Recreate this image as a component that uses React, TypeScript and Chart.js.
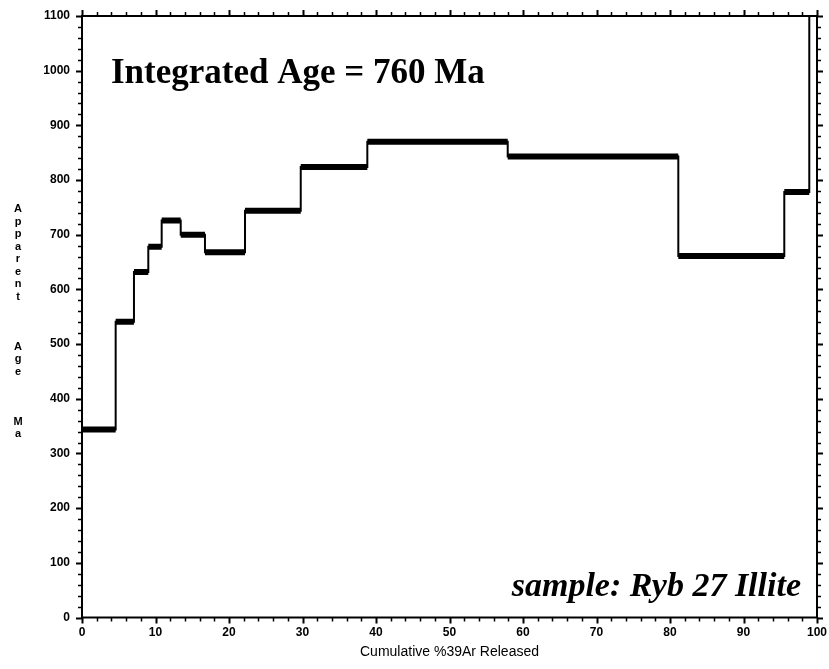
import React, { useEffect, useRef } from "react";
import { Chart, registerables } from "chart.js";

Chart.register(...registerables);

// ---- data ----
const stepStarts = [0, 4.58, 7.07, 9.02, 10.84, 13.43, 16.73, 22.18, 29.76, 38.82, 57.92, 81.13, 95.55, 98.95];
const stepAges = [344, 541, 632, 678, 726, 700, 668, 744, 824, 870, 843, 661, 778, 1300];
const releaseEnd = 100;
const finalDropAge = 133;

const xMin = 0;
const xMax = 100;
const xMajorStep = 10;
const xMinorStep = 2;
const yMin = 0;
const yMax = 1100;
const yMajorStep = 100;
const yMinorStep = 20;

const titleText = "Integrated Age = 760 Ma";
const sampleText = "sample: Ryb 27 Illite";
const yAxisWords = ["Apparent", "Age", "Ma"];
const xAxisTitle = "Cumulative %39Ar Released";

// ---- derived datasets ----
const stepLine = [
  ...stepStarts.map((x, i) => ({ x, y: stepAges[i] })),
  { x: releaseEnd, y: stepAges[stepAges.length - 1] },
  { x: releaseEnd, y: finalDropAge },
];

const bandPoints: { x: number; y: number | null }[] = [];
for (let i = 0; i < stepStarts.length - 1; i++) {
  const end = stepStarts[i + 1];
  bandPoints.push({ x: stepStarts[i], y: stepAges[i] });
  bandPoints.push({ x: end, y: stepAges[i] });
  bandPoints.push({ x: end, y: null });
}

const decorPlugin = {
  id: "decor",
  afterDraw(chart: any) {
    const { ctx, chartArea } = chart;
    const { left, right, top, bottom } = chartArea;
    const xs = chart.scales.x;
    const ys = chart.scales.y;
    ctx.save();
    ctx.strokeStyle = "#000";
    ctx.fillStyle = "#000";
    // frame
    ctx.lineWidth = 2;
    ctx.strokeRect(left, top, right - left, bottom - top);
    // x ticks (bottom outward, top outward)
    for (let v = xMin; v <= xMax + 1e-9; v += xMinorStep) {
      const major = Math.abs(v % xMajorStep) < 1e-9;
      const len = major ? 6 : 4;
      const px = Math.round(xs.getPixelForValue(v)) + 0.5;
      ctx.lineWidth = major ? 2 : 1.5;
      ctx.beginPath();
      ctx.moveTo(px, bottom);
      ctx.lineTo(px, bottom + len);
      ctx.moveTo(px, top);
      ctx.lineTo(px, top - len);
      ctx.stroke();
    }
    // y ticks (left outward, right outward)
    for (let v = yMin; v <= yMax + 1e-9; v += yMinorStep) {
      const major = Math.abs(v % yMajorStep) < 1e-9;
      const len = major ? 6 : 4;
      const py = Math.round(ys.getPixelForValue(v)) + 0.5;
      ctx.lineWidth = major ? 2 : 1.5;
      ctx.beginPath();
      ctx.moveTo(left, py);
      ctx.lineTo(left - len, py);
      ctx.moveTo(right, py);
      ctx.lineTo(right + len, py);
      ctx.stroke();
    }
    // title in plot
    ctx.textAlign = "left";
    ctx.textBaseline = "alphabetic";
    ctx.font = "bold 35px 'Liberation Serif', 'Times New Roman', serif";
    ctx.fillText(titleText, 111, 83);
    // sample label
    ctx.textAlign = "right";
    ctx.font = "italic bold 34px 'Liberation Serif', 'Times New Roman', serif";
    ctx.fillText(sampleText, 801, 596);
    // stacked y-axis title
    ctx.textAlign = "center";
    ctx.textBaseline = "middle";
    ctx.font = "bold 11px 'Liberation Sans', Arial, sans-serif";
    let yy = 209;
    const stepY = 12.5;
    yAxisWords.forEach((w, wi) => {
      for (const ch of w) {
        ctx.fillText(ch, 18, yy);
        yy += stepY;
      }
      if (wi < yAxisWords.length - 1) yy += stepY * 3;
    });
    // x-axis title
    ctx.font = "14px 'Liberation Sans', Arial, sans-serif";
    ctx.fillText(xAxisTitle, (left + right) / 2, 652);
    ctx.restore();
  },
};

export default function App() {
  const canvasRef = useRef<HTMLCanvasElement | null>(null);

  useEffect(() => {
    const canvas = canvasRef.current;
    if (!canvas) return;
    const tickFont = { family: "'Liberation Sans', Arial, sans-serif", size: 12, weight: "bold" as const };
    const chart = new Chart(canvas, {
      type: "line",
      data: {
        datasets: [
          {
            label: "error band",
            data: bandPoints as any,
            borderColor: "#000",
            borderWidth: 6,
            borderCapStyle: "butt",
            pointRadius: 0,
            spanGaps: false,
            tension: 0,
            fill: false,
          },
          {
            label: "age spectrum",
            data: stepLine as any,
            borderColor: "#000",
            borderWidth: 2,
            stepped: "before",
            pointRadius: 0,
            tension: 0,
            fill: false,
          },
        ],
      },
      options: {
        responsive: false,
        animation: false,
        events: [],
        layout: { padding: { left: 0, right: 12, top: 16, bottom: 0 } },
        plugins: {
          legend: { display: false },
          tooltip: { enabled: false },
          title: { display: false },
        },
        scales: {
          x: {
            type: "linear",
            min: xMin,
            max: xMax,
            afterFit: (s: any) => {
              s.height = 51.5;
            },
            ticks: {
              stepSize: xMajorStep,
              color: "#000",
              font: tickFont,
              padding: 1.5,
              maxRotation: 0,
              autoSkip: false,
              callback: (v: any) => String(v),
            },
            grid: { display: false, drawTicks: true, tickLength: 6 },
            border: { display: false },
          },
          y: {
            type: "linear",
            min: yMin,
            max: yMax,
            afterFit: (s: any) => {
              s.width = 82;
            },
            ticks: {
              stepSize: yMajorStep,
              color: "#000",
              font: tickFont,
              padding: 6,
              autoSkip: false,
              callback: (v: any) => String(v),
            },
            grid: { display: false, drawTicks: true, tickLength: 6 },
            border: { display: false },
          },
        },
      },
      plugins: [decorPlugin],
    });
    return () => chart.destroy();
  }, []);

  return (
    <div style={{ position: "fixed", left: 0, top: 0, width: 829, height: 669, background: "#fff" }}>
      <canvas ref={canvasRef} width={829} height={669} style={{ display: "block", width: 829, height: 669 }} />
    </div>
  );
}
